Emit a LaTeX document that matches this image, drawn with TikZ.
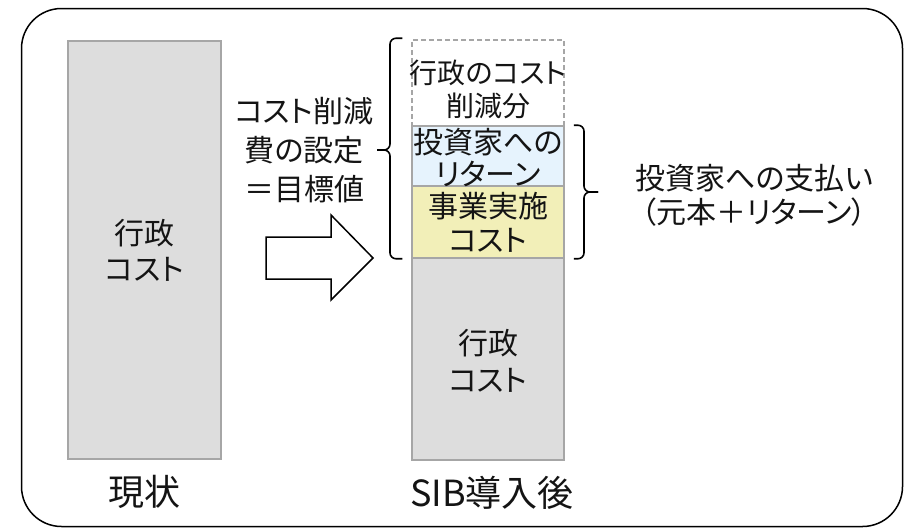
\documentclass[tikz,border=0pt]{standalone}
\usepackage{fontspec}
\setmainfont{Noto Sans CJK JP}[RawFeature=+palt]
\definecolor{boxline}{HTML}{A6A6A6}
\definecolor{grayfill}{HTML}{DDDDDD}
\definecolor{bluefill}{HTML}{E6F3FD}
\definecolor{yelfill}{HTML}{F2EFB8}
\definecolor{ink}{HTML}{141414}
\begin{document}
\begin{tikzpicture}[x=1pt,y=-1pt,
  bar/.style={draw=boxline, line width=1.5pt, minimum width=152pt, inner sep=0pt},
  txt/.style={font=\fontsize{30}{#1}\selectfont, align=center, inner sep=0pt, text=ink},
  big/.style={font=\fontsize{36}{40}\selectfont, inner sep=0pt, text=ink},
  bracestyle/.style={draw=black, line width=1.6pt, rounded corners=6pt, line join=round}]
\useasboundingbox (0,0) rectangle (904,528);
% outer frame
\draw[line width=1.5pt, rounded corners=40pt] (21.5,8.5) rectangle (902.5,526.5);
% current state bar
\node[bar, fill=grayfill, minimum width=153pt, minimum height=418pt] (cur) at (144.5,250) {};
\node[txt=36] (curtxt) at (144.5,250) {行政\\コスト};
\node[big] (lblcur) at (144.5,492) {現状};
% SIB stack
\node[bar, draw=boxline, dashed, dash pattern=on 5pt off 3pt, minimum height=86pt] (cut) at (488,83) {};
\node[bar, fill=bluefill, minimum height=60pt] (ret) at (488,156) {};
\node[bar, fill=yelfill, minimum height=72pt] (biz) at (488,222) {};
\node[bar, fill=grayfill, minimum height=202pt] (adm) at (488,359) {};
\node[txt=33, font=\fontsize{28}{33}\selectfont] (cuttxt) at (488,89) {行政のコスト\\削減分};
\node[txt=32] (rettxt) at (488,158) {投資家への\\リターン};
\node[txt=34] (biztxt) at (488,222) {事業実施\\コスト};
\node[txt=37] (admtxt) at (488,360.5) {行政\\コスト};
\node[big] (lblsib) at (492,493) {SIB導入後};
% left label
\node[txt=39] (goal) at (304,150) {コスト削減\\費の設定\\＝目標値};
% right label
\node[txt=34] (pay) at (754,195) {投資家への支払い\\（元本＋リターン）};
% block arrow
\draw[line width=1.5pt, fill=white, line join=miter]
  (266,237) -- (331,237) -- (331,215) -- (373,258) -- (331,300) -- (331,279) -- (266,279) -- cycle;
% left brace (tip pointing left)
\coordinate (lbtop) at ([xshift=-9pt,yshift=1pt]cut.north west);
\coordinate (lbbot) at ([xshift=-9pt]biz.south west);
\coordinate (lbtip) at (377,150);
\draw[bracestyle] (lbtop) -| (390,150) -- (lbtip);
\draw[bracestyle] (lbtip) -- (390,150) |- (lbbot);
% right brace (tip pointing right)
\coordinate (rbtop) at ([xshift=9pt]ret.north east);
\coordinate (rbbot) at ([xshift=9pt]biz.south east);
\coordinate (rbtip) at (598,192);
\draw[bracestyle] (rbtop) -| (584,192) -- (rbtip);
\draw[bracestyle] (rbtip) -- (584,192) |- (rbbot);
\end{tikzpicture}
\end{document}
